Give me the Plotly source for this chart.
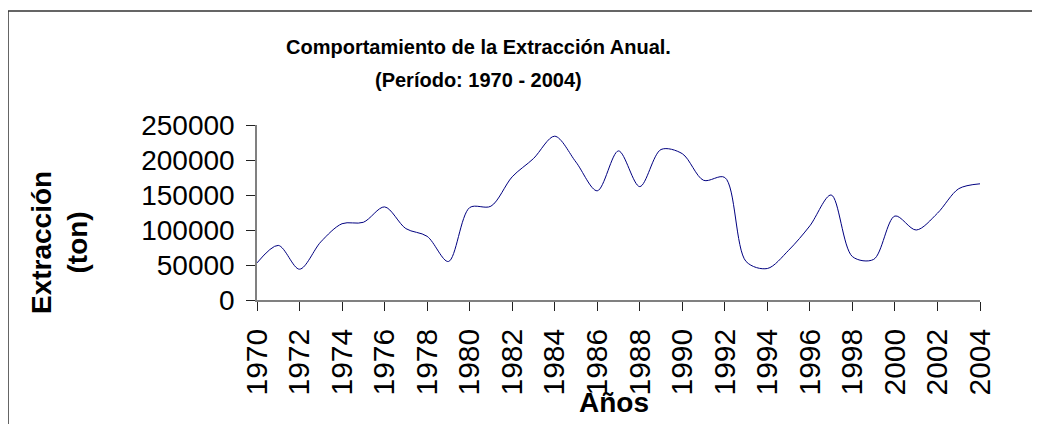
import plotly.graph_objects as go

# Annual extraction (ton)
years = list(range(1970, 2005))
extraction = [
    53000, 78000, 44000, 83000, 109000, 111000, 133000, 102000, 91000, 55000,
    132000, 134000, 176000, 202000, 234000, 197000, 156000, 213000, 162000, 215000,
    209000, 171000, 175000, 55000, 45000, 71000, 106000, 150000, 62000, 58000,
    120000, 100000, 124000, 159000, 166000,
]
x_ticks = list(range(1970, 2005, 2))
y_ticks = [0, 50000, 100000, 150000, 200000, 250000]

# the page body has an 8px margin, so work in screen pixels and shift
OFF = 8
W, H = 1040 - OFF, 424 - OFF
L, T = 257 - OFF, 125 - OFF
pw, ph = 723, 175
R, B = W - L - pw, H - T - ph


def px(x):
    return (x - OFF - L) / pw


def py(y):
    return (H - B - (y - OFF)) / ph


FONT = "Liberation Sans, Arial, sans-serif"

fig = go.Figure()
fig.add_trace(go.Scatter(
    x=years, y=extraction,
    mode="lines",
    line=dict(color="#000080", width=1, shape="spline", smoothing=0.9),
    showlegend=False,
    hoverinfo="x+y",
))

# chart-area frame: only its left and top edges fall inside the window
bx0, bx1, by0, by1 = px(8), px(1060), py(440), py(11)
frame = f"M {bx0},{by0} L {bx0},{by1} L {bx1},{by1}"

fig.update_layout(
    width=W, height=H,
    margin=dict(l=L, r=R, t=T, b=B, autoexpand=False),
    paper_bgcolor="white",
    plot_bgcolor="white",
    font=dict(family=FONT, color="black"),
    xaxis=dict(
        range=[1970, 2004],
        tickvals=x_ticks,
        ticktext=[str(v) for v in x_ticks],
        tickangle=-90,
        tickfont=dict(size=30),
        ticks="outside", ticklen=9, tickcolor="#222",
        ticklabelstandoff=6,
        showline=True, linecolor="#808080", linewidth=1.5,
        showgrid=False, zeroline=False,
    ),
    yaxis=dict(
        range=[0, 250000],
        tickvals=y_ticks,
        tickformat="d",
        tickfont=dict(size=28),
        ticks="outside", ticklen=9, tickcolor="#222",
        ticklabelstandoff=6,
        showline=True, linecolor="#808080", linewidth=1.5,
        showgrid=False, zeroline=False,
    ),
    shapes=[dict(
        type="path", xref="paper", yref="paper", path=frame,
        line=dict(color="#333", width=1.5), layer="below",
    )],
    annotations=[
        dict(
            text="<b>Comportamiento de la Extracción Anual.</b>", xref="paper", yref="paper",
            x=px(478), y=py(47), showarrow=False,
            font=dict(size=20, color="black"),
            xanchor="center", yanchor="middle",
        ),
        dict(
            text="<b>(Período: 1970 - 2004)</b>", xref="paper", yref="paper",
            x=px(478), y=py(80), showarrow=False,
            font=dict(size=20, color="black"),
            xanchor="center", yanchor="middle",
        ),
        dict(
            text="<b>Extracción</b><br><b>(ton)</b>", xref="paper", yref="paper",
            x=px(59), y=py(242), showarrow=False, textangle=-90,
            font=dict(size=28, color="black"),
            xanchor="center", yanchor="middle",
        ),
        dict(
            text="<b>Años</b>", xref="paper", yref="paper",
            x=px(614), y=py(402), showarrow=False,
            font=dict(size=28, color="black"),
            xanchor="center", yanchor="middle",
        ),
    ],
)

fig.write_html("out.html")
